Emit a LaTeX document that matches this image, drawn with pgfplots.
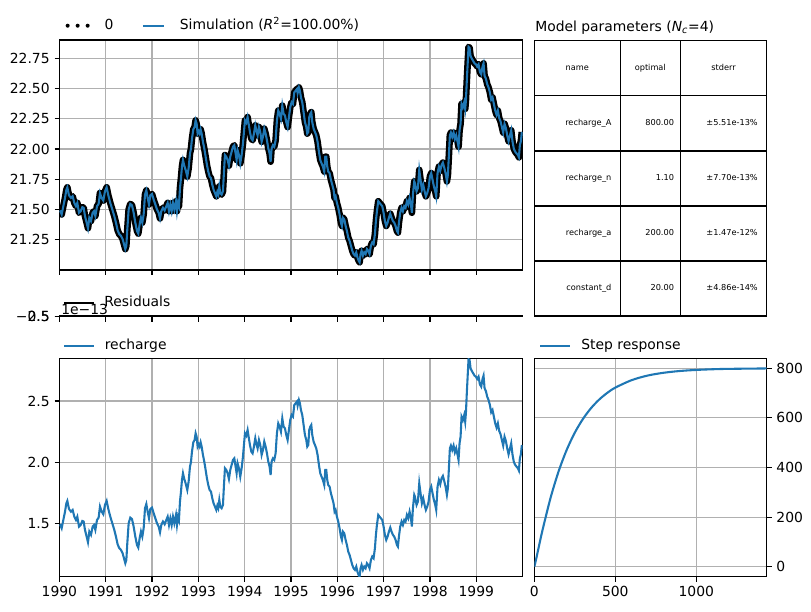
\documentclass[border=0pt]{standalone}
\usepackage{fontspec}
\setmainfont{DejaVu Sans}
\usepackage{pgfplots}
\usepackage{pgfplotstable}
\pgfplotsset{compat=1.18}

\definecolor{mplblue}{RGB}{31,119,180}
\definecolor{mplgrid}{RGB}{176,176,176}

% Contribution of the recharge stress (m); time in decimal years
\pgfplotstableread{
t v
1990.013 1.492
1990.049 1.459
1990.085 1.527
1990.121 1.595
1990.150 1.663
1990.171 1.683
1990.207 1.617
1990.250 1.595
1990.286 1.609
1990.322 1.554
1990.358 1.527
1990.387 1.554
1990.423 1.473
1990.459 1.486
1990.495 1.519
1990.524 1.514
1990.552 1.446
1990.588 1.391
1990.617 1.345
1990.646 1.432
1990.682 1.405
1990.718 1.473
1990.747 1.486
1990.776 1.446
1990.812 1.527
1990.847 1.546
1990.876 1.636
1990.912 1.595
1990.948 1.574
1990.984 1.650
1991.020 1.683
1991.056 1.617
1991.099 1.554
1991.142 1.500
1991.185 1.446
1991.221 1.391
1991.257 1.328
1991.293 1.296
1991.329 1.282
1991.365 1.255
1991.394 1.214
1991.423 1.173
1991.445 1.200
1991.466 1.337
1991.495 1.500
1991.531 1.546
1991.567 1.535
1991.603 1.473
1991.639 1.391
1991.675 1.323
1991.703 1.301
1991.732 1.377
1991.761 1.432
1991.790 1.391
1991.819 1.459
1991.848 1.623
1991.877 1.658
1991.905 1.595
1991.934 1.541
1991.963 1.617
1991.999 1.628
1992.035 1.582
1992.071 1.541
1992.107 1.500
1992.143 1.473
1992.172 1.426
1992.200 1.486
1992.236 1.514
1992.272 1.492
1992.308 1.527
1992.337 1.554
1992.366 1.486
1992.395 1.541
1992.424 1.486
1992.452 1.554
1992.481 1.500
1992.517 1.568
1992.538 1.486
1992.560 1.554
1992.581 1.527
1992.603 1.677
1992.625 1.759
1992.646 1.854
1992.668 1.909
1992.696 1.862
1992.725 1.827
1992.761 1.772
1992.790 1.841
1992.819 1.963
1992.840 2.000
1992.862 2.086
1992.891 2.162
1992.919 2.181
1992.941 2.236
1992.963 2.208
1992.984 2.127
1993.006 2.146
1993.027 2.127
1993.049 2.162
1993.071 2.127
1993.099 2.059
1993.128 2.004
1993.157 1.936
1993.185 1.868
1993.214 1.813
1993.243 1.772
1993.272 1.759
1993.301 1.704
1993.329 1.663
1993.358 1.636
1993.387 1.609
1993.409 1.644
1993.430 1.623
1993.452 1.691
1993.473 1.636
1993.502 1.623
1993.531 1.650
1993.553 1.813
1993.574 1.950
1993.603 1.936
1993.632 1.909
1993.660 1.862
1993.689 1.936
1993.718 1.977
1993.747 2.018
1993.776 2.031
1993.804 1.963
1993.826 1.909
1993.847 1.990
1993.876 1.950
1993.905 1.881
1993.934 1.950
1993.963 2.045
1993.984 2.140
1994.006 2.236
1994.035 2.217
1994.063 2.263
1994.085 2.208
1994.114 2.140
1994.143 2.086
1994.171 2.072
1994.200 2.127
1994.229 2.195
1994.250 2.154
1994.279 2.113
1994.308 2.181
1994.337 2.140
1994.366 2.059
1994.394 2.099
1994.423 2.168
1994.452 2.127
1994.481 2.072
1994.510 2.004
1994.538 1.963
1994.560 1.895
1994.581 2.004
1994.610 2.031
1994.639 2.018
1994.668 2.072
1994.696 2.236
1994.725 2.317
1994.754 2.290
1994.783 2.249
1994.812 2.358
1994.840 2.290
1994.869 2.277
1994.898 2.222
1994.927 2.181
1994.955 2.263
1994.984 2.345
1995.013 2.386
1995.042 2.372
1995.071 2.467
1995.099 2.481
1995.128 2.495
1995.143 2.462
1995.171 2.508
1995.193 2.481
1995.215 2.426
1995.243 2.386
1995.272 2.304
1995.301 2.222
1995.330 2.181
1995.351 2.127
1995.373 2.140
1995.394 2.263
1995.416 2.290
1995.438 2.304
1995.459 2.222
1995.488 2.168
1995.517 2.140
1995.545 2.113
1995.574 2.059
1995.603 1.977
1995.632 1.909
1995.660 1.881
1995.689 1.854
1995.718 1.813
1995.740 1.936
1995.761 1.936
1995.783 1.854
1995.804 1.813
1995.833 1.800
1995.862 1.745
1995.891 1.704
1995.919 1.663
1995.941 1.595
1995.963 1.609
1995.991 1.554
1996.020 1.514
1996.049 1.459
1996.078 1.391
1996.099 1.364
1996.121 1.432
1996.150 1.418
1996.179 1.364
1996.207 1.323
1996.236 1.268
1996.265 1.241
1996.294 1.200
1996.323 1.159
1996.351 1.132
1996.380 1.119
1996.409 1.146
1996.438 1.099
1996.459 1.078
1996.481 1.064
1996.502 1.132
1996.524 1.159
1996.553 1.119
1996.581 1.146
1996.610 1.132
1996.639 1.173
1996.668 1.159
1996.696 1.132
1996.725 1.200
1996.754 1.228
1996.783 1.214
1996.812 1.296
1996.833 1.405
1996.855 1.486
1996.884 1.568
1996.912 1.554
1996.941 1.541
1996.970 1.527
1996.999 1.473
1997.027 1.405
1997.056 1.364
1997.085 1.391
1997.114 1.432
1997.143 1.465
1997.171 1.432
1997.200 1.405
1997.229 1.391
1997.258 1.364
1997.286 1.323
1997.308 1.309
1997.330 1.391
1997.358 1.473
1997.387 1.514
1997.416 1.486
1997.445 1.527
1997.473 1.514
1997.502 1.568
1997.531 1.541
1997.560 1.595
1997.589 1.541
1997.610 1.473
1997.632 1.623
1997.661 1.732
1997.675 1.718
1997.711 1.650
1997.740 1.677
1997.769 1.827
1997.797 1.745
1997.826 1.663
1997.855 1.704
1997.884 1.650
1997.912 1.609
1997.941 1.636
1997.970 1.677
1997.999 1.772
1998.028 1.800
1998.056 1.745
1998.085 1.691
1998.114 1.650
1998.135 1.609
1998.164 1.800
1998.193 1.854
1998.222 1.819
1998.251 1.868
1998.279 1.887
1998.308 1.846
1998.337 1.800
1998.366 1.732
1998.387 1.786
1998.409 1.950
1998.430 2.113
1998.452 2.135
1998.481 2.099
1998.510 2.135
1998.538 2.080
1998.567 2.113
1998.596 2.059
1998.617 2.018
1998.639 2.154
1998.661 2.208
1998.682 2.372
1998.711 2.345
1998.740 2.386
1998.761 2.331
1998.776 2.399
1998.797 2.576
1998.819 2.740
1998.833 2.843
1998.855 2.835
1998.877 2.767
1998.905 2.745
1998.934 2.726
1998.963 2.707
1998.992 2.699
1999.020 2.680
1999.049 2.699
1999.078 2.636
1999.107 2.617
1999.135 2.680
1999.157 2.707
1999.179 2.604
1999.207 2.582
1999.236 2.535
1999.265 2.508
1999.294 2.467
1999.322 2.407
1999.351 2.426
1999.380 2.372
1999.409 2.317
1999.438 2.282
1999.466 2.317
1999.495 2.255
1999.524 2.228
1999.553 2.181
1999.581 2.135
1999.610 2.208
1999.639 2.173
1999.668 2.113
1999.697 2.064
1999.725 2.108
1999.754 2.154
1999.783 2.059
1999.812 2.000
1999.841 1.977
1999.869 1.963
1999.898 1.950
1999.920 1.931
1999.941 2.031
1999.963 2.064
1999.984 2.140
}\rechargetab

% Step response of the recharge stress (days, m)
\pgfplotstableread{
t s
0 0
10 27.6
25 72.7
50 146.3
100 277.2
150 384.7
200 471.3
250 540.5
300 595.5
350 639.1
400 673.5
450 700.6
500 721.9
600 751.8
700 770.6
800 781.9
900 789.0
1000 793.2
1100 795.9
1200 797.5
1435 799.2
}\steptab

\pgfplotsset{
  mpl/.style={
    scale only axis,
    anchor=north west,
    axis line style={line width=0.8pt, black},
    tick align=outside,
    major tick length=3.5pt,
    major tick style={line width=0.8pt, black},
    grid=major,
    major grid style={line width=0.8pt, mplgrid},
    xtick pos=bottom, ytick pos=left,
    /pgf/number format/assume math mode=true,
    tick label style={font=\fontsize{10}{12}\selectfont},
    xticklabel style={/pgf/number format/1000 sep={}},
    legend cell align=left,
  },
  mpllegend/.style={
    legend style={
      at={(axis description cs:0,1)}, anchor=west,
      draw=none, fill=none, inner sep=0pt, outer sep=0pt,
      legend columns=-1,
      font=\fontsize{10}{12}\selectfont,
      nodes={inner sep=0pt, text height=7.6pt, text depth=2pt},
    },
  },
  % straight legend handle of a given length
  mplhandle/.style={legend image code/.code={\draw[##1] (0pt,0pt) -- (#1,0pt);}},
  % three dots as handle of the observations
  mpldots/.style={legend image code/.code={
    \path[fill=black, draw=none] (1.45pt,0pt) circle (1.45pt);
    \path[fill=black, draw=none] (8.65pt,0pt) circle (1.45pt);
    \path[fill=black, draw=none] (15.85pt,0pt) circle (1.45pt);}},
}

\begin{document}
\begin{tikzpicture}
\useasboundingbox (0pt,0pt) rectangle (583.92pt,-439.92pt);

% ---------------- simulated and observed heads ----------------
\begin{axis}[mpl, at={(42.77pt,-28.8pt)}, width=333.5pt, height=165.6pt,
  clip mode=individual,
  xmin=1990, xmax=2000, ymin=21.0, ymax=22.9,
  xtick={1990,1991,...,1999}, xticklabels={},
  ytick={21.25,21.5,21.75,22,22.25,22.5,22.75},
  yticklabel style={/pgf/number format/.cd, fixed, fixed zerofill, precision=2},
  mpllegend,
  legend style={xshift=4.5pt, yshift=10.3pt,
    /tikz/every odd column/.append style={column sep=10.8pt},
    /tikz/every even column/.append style={column sep=20.4pt}},
]
% observations: dense daily points, drawn as a band of dots
\addplot[black, line width=4.8pt, line join=round, mpldots]
  table[x=t, y expr=\thisrow{v}+20] {\rechargetab};
\addlegendentry{0}
\addplot[mplblue, line width=1.5pt, mplhandle=15.1pt]
  table[x=t, y expr=\thisrow{v}+20] {\rechargetab};
\addlegendentry{Simulation ({\itshape R}\textsuperscript{2}=100.00\%)}
\end{axis}

% ---------------- residuals ----------------
\begin{axis}[mpl, at={(42.77pt,-227.52pt)}, width=333.5pt, height=0.6pt,
  grid=none, clip=false,
  xmin=1990, xmax=2000, ymin=0, ymax=1,
  xtick={1990,1991,...,1999}, xticklabels={},
  ytick={0.5}, yticklabels={−2.5},
  extra y ticks={0.5}, extra y tick labels={0.5},
  extra y tick style={grid=none},
  mpllegend,
  legend style={xshift=2.8pt, yshift=9.4pt,
    /tikz/every odd column/.append style={column sep=7.2pt}},
]
\addlegendimage{black, line width=1.2pt, mplhandle=21.2pt}
\addlegendentry{Residuals}
\node[anchor=base west, xshift=1.2pt, yshift=1.4pt, inner sep=0pt, font=\fontsize{10}{12}\selectfont] at (axis description cs:0,1) {1e−13};
\end{axis}

% ---------------- recharge contribution ----------------
\begin{axis}[mpl, at={(42.77pt,-257.98pt)}, width=333.5pt, height=157.25pt,
  xmin=1990, xmax=2000, ymin=1.063, ymax=2.849,
  xtick={1990,1991,...,1999},
  ytick={1.5,2,2.5},
  yticklabel style={/pgf/number format/.cd, fixed, fixed zerofill, precision=1},
  mpllegend,
  legend style={xshift=2.8pt, yshift=8.86pt,
    /tikz/every odd column/.append style={column sep=7.2pt}},
]
\addplot[mplblue, line width=1.5pt, mplhandle=21.2pt]
  table[x=t, y=v] {\rechargetab};
\addlegendentry{recharge}
\node[anchor=base east, yshift=4.8pt, inner sep=0pt, font=\fontsize{10}{12}\selectfont] at (axis description cs:1,1) {Stresses: [RH\_260]};
\end{axis}

% ---------------- step response ----------------
\begin{axis}[mpl, at={(384.72pt,-257.98pt)}, width=167.3pt, height=157.25pt,
  xmin=0, xmax=1435, ymin=-40, ymax=840,
  xtick={0,500,1000}, ytick={0,200,400,600,800},
  ytick pos=right, yticklabel pos=right,
  mpllegend,
  legend style={xshift=3.6pt, yshift=8.86pt,
    /tikz/every odd column/.append style={column sep=7.2pt}},
]
\addplot[mplblue, line width=1.5pt, smooth, mplhandle=21.6pt]
  table[x=t, y=s] {\steptab};
\addlegendentry{Step response}
\end{axis}

% ---------------- parameter table ----------------
\node[anchor=base west, inner sep=0pt, font=\fontsize{10}{12}\selectfont]
  at (385.2pt,-22.6pt) {Model parameters ({\itshape N}\textsubscript{\itshape c}=4)};
\begin{scope}[line width=1pt]
  \draw (384.7pt,-29.3pt) rectangle (552.0pt,-227.5pt);
  \draw (446.6pt,-29.3pt) -- (446.6pt,-227.5pt);
  \draw (489.8pt,-29.3pt) -- (489.8pt,-227.5pt);
  \draw (384.7pt,-68.94pt) -- (552.0pt,-68.94pt);
  \draw (384.7pt,-108.58pt) -- (552.0pt,-108.58pt);
  \draw (384.7pt,-148.22pt) -- (552.0pt,-148.22pt);
  \draw (384.7pt,-187.86pt) -- (552.0pt,-187.86pt);
\end{scope}
\begin{scope}[every node/.style={inner sep=0pt, text height=4.3pt, text depth=1.2pt, font=\fontsize{5.9}{7}\selectfont}]
  \node at (415.65pt,-49.12pt) {name};
  \node at (468.2pt,-49.12pt) {optimal};
  \node at (520.9pt,-49.12pt) {stderr};
  \node[anchor=east] at (440.4pt,-88.76pt) {recharge\_A};
  \node[anchor=east] at (485.5pt,-88.76pt) {800.00};
  \node[anchor=east] at (545.8pt,-88.76pt) {±5.51e-13\%};
  \node[anchor=east] at (440.4pt,-128.4pt) {recharge\_n};
  \node[anchor=east] at (485.5pt,-128.4pt) {1.10};
  \node[anchor=east] at (545.8pt,-128.4pt) {±7.70e-13\%};
  \node[anchor=east] at (440.4pt,-168.04pt) {recharge\_a};
  \node[anchor=east] at (485.5pt,-168.04pt) {200.00};
  \node[anchor=east] at (545.8pt,-168.04pt) {±1.47e-12\%};
  \node[anchor=east] at (440.4pt,-207.68pt) {constant\_d};
  \node[anchor=east] at (485.5pt,-207.68pt) {20.00};
  \node[anchor=east] at (545.8pt,-207.68pt) {±4.86e-14\%};
\end{scope}
\end{tikzpicture}
\end{document}
